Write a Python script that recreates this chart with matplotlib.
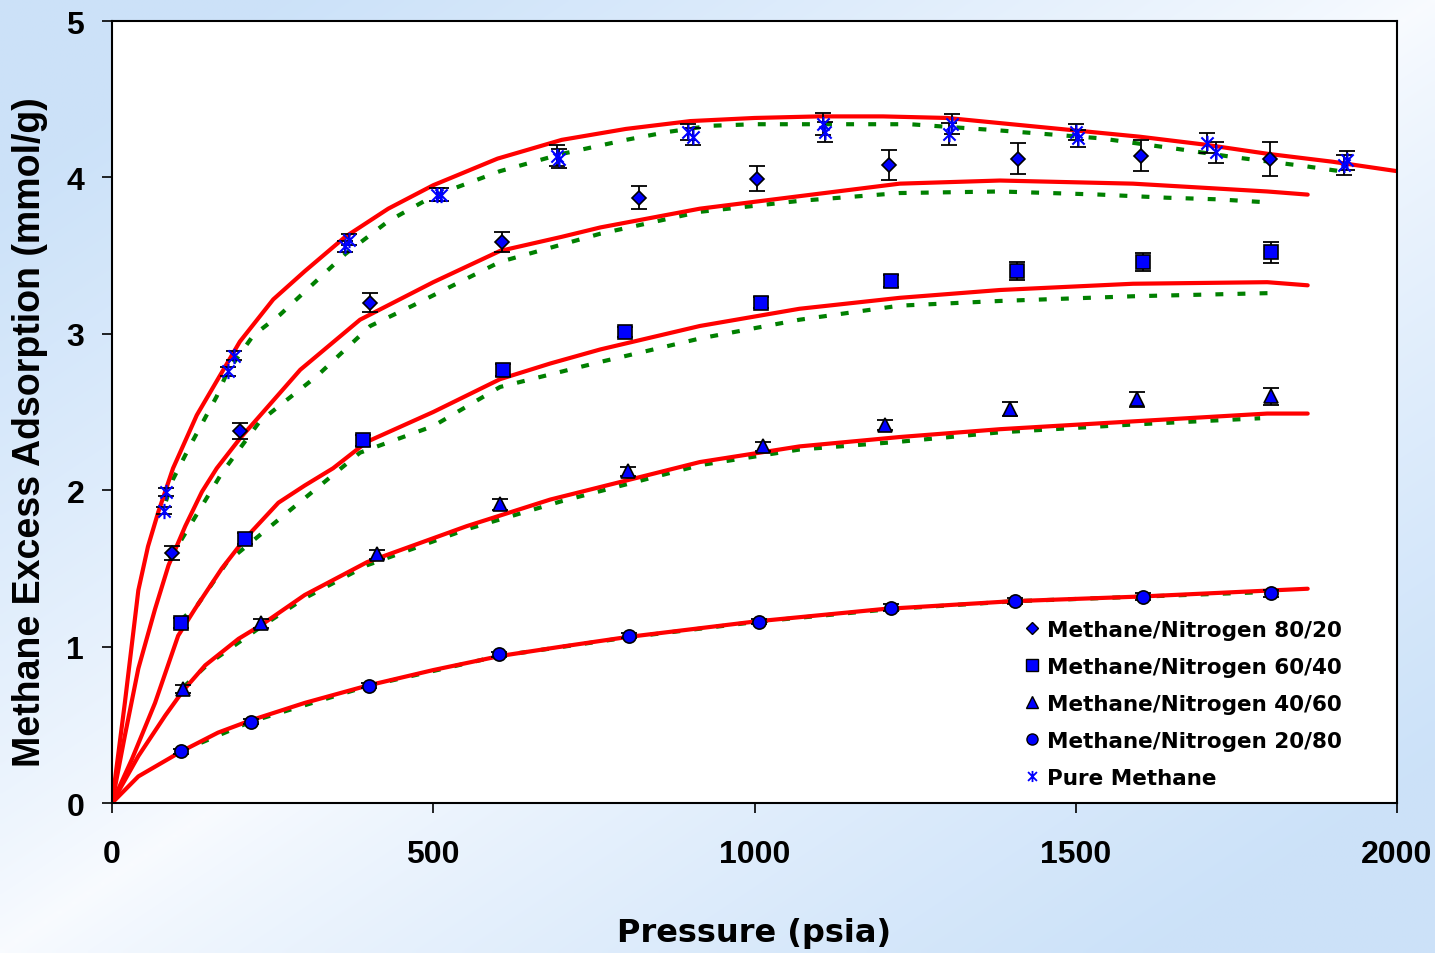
import numpy as np
import matplotlib
matplotlib.use("Agg")
import matplotlib.pyplot as plt
from matplotlib.path import Path
from matplotlib.lines import Line2D

plt.rcParams['font.family'] = ['Liberation Sans', 'DejaVu Sans']
plt.rcParams['font.weight'] = 'bold'

# ---- measured points (pressure psia, excess adsorption mmol/g, error) ----
p_8020 = [93, 199, 402, 607, 820, 1004, 1209, 1410, 1602, 1802]
q_8020 = [1.60, 2.38, 3.20, 3.59, 3.87, 3.99, 4.08, 4.12, 4.14, 4.12]
e_8020 = [0.045, 0.05, 0.06, 0.064, 0.075, 0.08, 0.098, 0.10, 0.10, 0.108]

p_6040 = [107, 207, 391, 609, 798, 1010, 1212, 1409, 1605, 1804]
q_6040 = [1.15, 1.69, 2.32, 2.77, 3.01, 3.20, 3.34, 3.40, 3.46, 3.52]
e_6040 = [0.033, 0.035, 0.035, 0.04, 0.033, 0.038, 0.039, 0.057, 0.057, 0.065]

p_4060 = [111, 232, 413, 604, 803, 1013, 1203, 1398, 1595, 1804]
q_4060 = [0.73, 1.15, 1.59, 1.91, 2.12, 2.28, 2.42, 2.52, 2.58, 2.60]
e_4060 = [0.026, 0.028, 0.03, 0.035, 0.03, 0.03, 0.032, 0.046, 0.048, 0.053]

p_2080 = [107, 216, 400, 602, 805, 1007, 1212, 1405, 1605, 1804]
q_2080 = [0.33, 0.52, 0.75, 0.95, 1.07, 1.16, 1.25, 1.29, 1.32, 1.34]
e_2080 = [0.015, 0.015, 0.015, 0.015, 0.015, 0.015, 0.02, 0.02, 0.02, 0.02]

p_pure = [81, 84, 180, 190, 363, 369, 506, 512, 692, 695, 897, 905,
          1107, 1110, 1302, 1307, 1501, 1503, 1704, 1719, 1918, 1922]
q_pure = [1.87, 1.99, 2.76, 2.86, 3.56, 3.60, 3.89, 3.89, 4.14, 4.12, 4.29, 4.26,
          4.34, 4.29, 4.28, 4.34, 4.29, 4.25, 4.22, 4.16, 4.08, 4.11]
e_pure = [0.025, 0.025, 0.03, 0.03, 0.035, 0.035, 0.04, 0.04, 0.064, 0.06, 0.05, 0.053,
          0.07, 0.065, 0.07, 0.065, 0.05, 0.055, 0.065, 0.065, 0.065, 0.06]

# ---- model curves ----
# red solid
fit_pure_p = [0, 20, 41, 56, 72, 95, 132, 199, 251, 300, 363, 430, 500, 600, 700, 800,
              900, 1000, 1100, 1200, 1300, 1400, 1500, 1600, 1700, 1800, 1900, 2000]
fit_pure_q = [0, 0.64, 1.36, 1.64, 1.86, 2.14, 2.48, 2.95, 3.22, 3.40, 3.62, 3.80, 3.95, 4.12,
              4.24, 4.31, 4.36, 4.38, 4.39, 4.39, 4.38, 4.34, 4.30, 4.26, 4.21, 4.15, 4.10, 4.04]
fit_8020_p = [0, 20, 41, 67, 88, 114, 140, 163, 199, 293, 386, 500, 604, 700, 760, 915,
              1070, 1226, 1382, 1589, 1798, 1861]
fit_8020_q = [0, 0.43, 0.86, 1.24, 1.52, 1.77, 1.99, 2.14, 2.33, 2.77, 3.09, 3.33, 3.53, 3.62,
              3.68, 3.80, 3.88, 3.96, 3.98, 3.96, 3.91, 3.89]
fit_6040_p = [0, 31, 67, 103, 129, 171, 207, 259, 300, 344, 397, 500, 604, 682, 760, 915,
              1070, 1226, 1382, 1589, 1798, 1861]
fit_6040_q = [0, 0.28, 0.64, 1.07, 1.24, 1.50, 1.69, 1.92, 2.03, 2.14, 2.31, 2.50, 2.71, 2.81,
              2.90, 3.05, 3.16, 3.23, 3.28, 3.32, 3.33, 3.31]
fit_4060_p = [0, 41, 83, 111, 145, 197, 233, 300, 397, 552, 682, 915, 1070, 1226, 1382,
              1589, 1798, 1861]
fit_4060_q = [0, 0.30, 0.56, 0.72, 0.88, 1.05, 1.14, 1.33, 1.54, 1.77, 1.94, 2.18, 2.28, 2.34,
              2.39, 2.44, 2.49, 2.49]
fit_2080_p = [0, 41, 108, 165, 217, 300, 397, 500, 604, 700, 800, 1000, 1200, 1400, 1600, 1861]
fit_2080_q = [0, 0.17, 0.33, 0.45, 0.53, 0.64, 0.75, 0.85, 0.94, 1.00, 1.06, 1.16, 1.24, 1.29,
              1.32, 1.37]

# green dotted
alt_pure_p = [84, 95, 121, 163, 180, 220, 261, 363, 430, 500, 604, 700, 800, 864, 931, 1000,
              1100, 1242, 1382, 1538, 1662, 1745, 1860, 1911]
alt_pure_q = [1.93, 2.07, 2.28, 2.60, 2.76, 2.99, 3.12, 3.51, 3.72, 3.88, 4.04, 4.15, 4.24,
              4.29, 4.33, 4.34, 4.34, 4.34, 4.30, 4.25, 4.18, 4.13, 4.07, 4.04]
alt_8020_p = [90, 109, 171, 230, 319, 402, 468, 604, 760, 915, 1070, 1226, 1382, 1538, 1642,
              1720, 1800]
alt_8020_q = [1.56, 1.69, 2.11, 2.44, 2.73, 3.05, 3.18, 3.46, 3.64, 3.78, 3.85, 3.90, 3.91,
              3.89, 3.87, 3.86, 3.84]
alt_6040_p = [107, 132, 179, 241, 324, 386, 500, 604, 760, 915, 1070, 1226, 1382, 1589, 1800]
alt_6040_q = [1.17, 1.26, 1.54, 1.75, 2.03, 2.24, 2.41, 2.66, 2.82, 2.97, 3.09, 3.18, 3.21,
              3.24, 3.26]
alt_4060_p = [111, 150, 233, 300, 397, 552, 700, 915, 1070, 1226, 1382, 1589, 1787]
alt_4060_q = [0.74, 0.89, 1.13, 1.31, 1.52, 1.75, 1.93, 2.16, 2.26, 2.31, 2.37, 2.42, 2.46]
alt_2080_p = [107, 216, 400, 602, 805, 1007, 1212, 1405, 1605, 1804]
alt_2080_q = [0.33, 0.52, 0.75, 0.94, 1.06, 1.16, 1.24, 1.29, 1.32, 1.35]

labels = ["Methane/Nitrogen 80/20", "Methane/Nitrogen 60/40", "Methane/Nitrogen 40/60",
          "Methane/Nitrogen 20/80", "Pure Methane"]

W, H = 1435, 954
fig = plt.figure(figsize=(W / 100, H / 100), dpi=100)

# background gradient
bg = fig.add_axes([0, 0, 1, 1], zorder=-10)
u = np.linspace(0, 1, 300)[None, :]
v = np.linspace(0, 1, 200)[:, None]
t = np.clip(np.abs(u + v - 1) * 1.25, 0, 1) ** 0.8
blue = np.array([0.80, 0.886, 0.976])
white = np.array([0.975, 0.985, 1.0])
img = white * (1 - t[..., None]) + blue * t[..., None]
bg.imshow(img, aspect='auto', extent=[0, 1, 0, 1], origin='upper', interpolation='bilinear')
bg.axis('off')

ax = fig.add_axes([112 / W, 1 - 804 / H, 1285 / W, 782 / H])
ax.set_facecolor('white')

green_ls = (0, (1.9, 3.4))
for pp, qq in [(alt_2080_p, alt_2080_q), (alt_4060_p, alt_4060_q), (alt_6040_p, alt_6040_q),
               (alt_8020_p, alt_8020_q), (alt_pure_p, alt_pure_q)]:
    ax.plot(pp, qq, color='#008000', lw=3, linestyle=green_ls, dash_capstyle='butt', zorder=2)
for pp, qq in [(fit_2080_p, fit_2080_q), (fit_4060_p, fit_4060_q), (fit_6040_p, fit_6040_q),
               (fit_8020_p, fit_8020_q), (fit_pure_p, fit_pure_q)]:
    ax.plot(pp, qq, color='#FF0000', lw=3, solid_capstyle='round', solid_joinstyle='round',
            zorder=2.5)

aster = Path([(-1, -1), (1, 1), (-1, 1), (1, -1), (0, -1.25), (0, 1.25)],
             [Path.MOVETO, Path.LINETO, Path.MOVETO, Path.LINETO, Path.MOVETO, Path.LINETO])

series = [
    (p_8020, q_8020, e_8020, 'D', 7.2),
    (p_6040, q_6040, e_6040, 's', 9.5),
    (p_4060, q_4060, e_4060, '^', 10),
    (p_2080, q_2080, e_2080, 'o', 9.5),
]
for pp, qq, ee, mk, ms in series:
    ax.errorbar(pp, qq, yerr=ee, fmt='none', ecolor='black', elinewidth=1.3,
                capsize=6, capthick=1.3, zorder=3)
    ax.plot(pp, qq, linestyle='none', marker=mk, ms=ms, mfc='#0000FF', mec='black',
            mew=1.2, zorder=4)

ax.errorbar(p_pure, q_pure, yerr=e_pure, fmt='none', ecolor='black', elinewidth=1.3,
            capsize=6, capthick=1.3, zorder=3)
ax.plot(p_pure, q_pure, linestyle='none', marker=aster, ms=11, mfc='none', mec='#0000FF',
        mew=1.5, zorder=4)

ax.set_xlim(0, 2000)
ax.set_ylim(0, 5)
ax.set_xticks([0, 500, 1000, 1500, 2000])
ax.set_yticks([0, 1, 2, 3, 4, 5])
ax.tick_params(direction='out', length=7, width=1.2, labelsize=23)
ax.tick_params(axis='x', pad=19)
ax.tick_params(axis='y', pad=13)
for s in ax.spines.values():
    s.set_linewidth(1.5)
    s.set_color('black')

ax.set_xlabel("Pressure (psia)", fontsize=23, fontweight='bold', family='DejaVu Sans')
ax.xaxis.set_label_coords(0.5, -0.177)
ax.xaxis.label.set_va('baseline')
ax.set_ylabel("Methane Excess Adsorption (mmol/g)", fontsize=27, fontweight='bold')
ax.yaxis.set_label_coords(-0.064, 0.476)
ax.yaxis.label.set_va('center')

handles = [
    Line2D([], [], ls='none', marker='D', ms=6, mfc='#0000FF', mec='black', mew=1),
    Line2D([], [], ls='none', marker='s', ms=8, mfc='#0000FF', mec='black', mew=1),
    Line2D([], [], ls='none', marker='^', ms=8, mfc='#0000FF', mec='black', mew=1),
    Line2D([], [], ls='none', marker='o', ms=8, mfc='#0000FF', mec='black', mew=1),
    Line2D([], [], ls='none', marker=aster, ms=8, mfc='none', mec='#0000FF', mew=1.3),
]
fig.legend(handles, labels, loc='upper left', bbox_to_anchor=(1014 / W, 1 - 610 / H),
           frameon=False, borderpad=0, handlelength=0.7, handletextpad=0.35,
           labelspacing=0.79, prop={'family': 'DejaVu Sans', 'weight': 'bold', 'size': 15.5})

fig.savefig("out.png", dpi=100)
